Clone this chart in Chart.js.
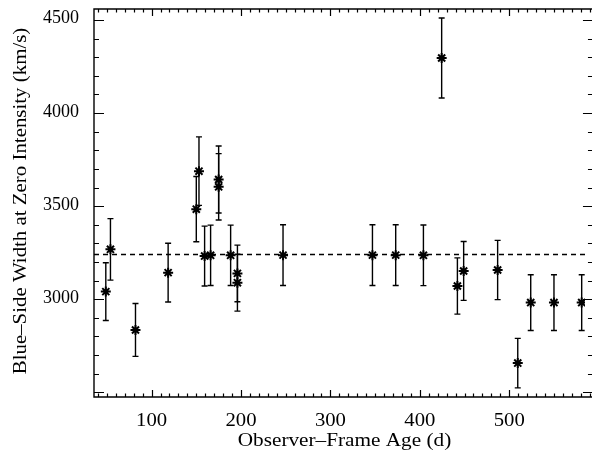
<!DOCTYPE html>
<html><head><meta charset="utf-8">
<script src="https://cdn.jsdelivr.net/npm/chart.js@4"></script>
<style>
html,body{margin:0;padding:0;background:#fff;overflow:hidden;width:592px;height:456px}
#wrap{width:592px;height:456px;position:relative}
canvas{display:block}
</style></head>
<body><div id="wrap"><canvas id="c" width="592" height="456"></canvas></div>
<script>
// Observer-frame age (days)
const ages = [48.8, 54, 82, 118.5, 150, 153, 159.3, 166, 175, 175, 188.4, 196, 196, 247, 347, 373, 404, 424.4, 442, 449, 487, 509.5, 524, 550, 581];
// Blue-side width at zero intensity (km/s)
const widths = [3041, 3268, 2835, 3143, 3484, 3688, 3232, 3236, 3643, 3604, 3236, 3139, 3089, 3237, 3237, 3237, 3236, 4296, 3071, 3152, 3157, 2657, 2982, 2982, 2982];
// 1-sigma uncertainties (km/s)
const errors = [155, 165, 142, 158, 175, 184, 161, 162, 180, 178, 162, 152, 153, 163, 163, 163, 163, 215, 151, 158, 159, 133, 150, 150, 150];
const meanWidth = 3240;
const xTicks = [100, 200, 300, 400, 500];
const yTicks = [3000, 3500, 4000, 4500];
const xRange = [35.6, 584.7];   // visible part of the axis
const xAxisEnd = 593.6;         // true right end of the plot box (just off the picture)
const yRange = [2475, 4559];
const xTitle = 'Observer\u2013Frame Age (d)';
const yTitle = 'Blue\u2013Side Width at Zero Intensity (km/s)';

const FONT = "'Liberation Serif', 'Times New Roman', serif";
const INK = '#000';

const points = ages.map((a, i) => ({x: a, y: widths[i]}));

function stretchedText(ctx, text, x, y, sx, align) {
  ctx.save();
  ctx.translate(x, y);
  ctx.scale(sx, 1);
  ctx.textAlign = align;
  ctx.fillText(text, 0, 0);
  ctx.restore();
}

const errorBars = {
  id: 'errorBars',
  afterDatasetsDraw(chart) {
    const {ctx, scales: {x, y}} = chart;
    ctx.save();
    ctx.strokeStyle = INK;
    ctx.lineWidth = 1.4;
    ages.forEach((a, i) => {
      const px = x.getPixelForValue(a);
      const yt = y.getPixelForValue(widths[i] + errors[i]);
      const yb = y.getPixelForValue(widths[i] - errors[i]);
      ctx.beginPath();
      ctx.moveTo(px, yt); ctx.lineTo(px, yb);
      ctx.moveTo(px - 3, yt); ctx.lineTo(px + 3, yt);
      ctx.moveTo(px - 3, yb); ctx.lineTo(px + 3, yb);
      ctx.stroke();
    });
    ctx.restore();
  }
};

const frame = {
  id: 'frame',
  afterDraw(chart) {
    const {ctx, chartArea: ca, scales: {x, y}} = chart;
    const rx = x.getPixelForValue(xAxisEnd);
    ctx.save();
    ctx.strokeStyle = INK;
    ctx.lineWidth = 1.4;
    ctx.beginPath();
    ctx.moveTo(rx, ca.top); ctx.lineTo(ca.left, ca.top);
    ctx.lineTo(ca.left, ca.bottom); ctx.lineTo(rx, ca.bottom);
    ctx.moveTo(rx, ca.top); ctx.lineTo(rx, ca.bottom);
    ctx.stroke();
    ctx.lineWidth = 1.2;
    ctx.beginPath();
    for (let v = Math.ceil(xRange[0] / 10) * 10; v <= xAxisEnd; v += 10) {
      const px = Math.round(x.getPixelForValue(v)) + 0.5;
      const len = (v % 100 === 0) ? 7 : 3.5;
      ctx.moveTo(px, ca.bottom); ctx.lineTo(px, ca.bottom - len);
      ctx.moveTo(px, ca.top); ctx.lineTo(px, ca.top + len);
    }
    for (let v = Math.ceil(yRange[0] / 100) * 100; v <= yRange[1]; v += 100) {
      const py = Math.round(y.getPixelForValue(v)) + 0.5;
      const len = (v % 500 === 0) ? 10 : 5;
      ctx.moveTo(ca.left, py); ctx.lineTo(ca.left + len, py);
      ctx.moveTo(rx, py); ctx.lineTo(rx - len, py);
    }
    ctx.stroke();

    ctx.fillStyle = INK;
    ctx.font = '18px ' + FONT;
    ctx.textBaseline = 'alphabetic';
    // tick labels
    xTicks.forEach(v => stretchedText(ctx, String(v), x.getPixelForValue(v), 426, 1.15, 'center'));
    yTicks.forEach(v => stretchedText(ctx, String(v), ca.left - 15, y.getPixelForValue(v) + 3.5, 1.0, 'right'));
    // axis titles
    stretchedText(ctx, xTitle, (ca.left + rx) / 2 + 1, 446, 1.18, 'center');
    ctx.save();
    ctx.translate(26, 201);
    ctx.rotate(-Math.PI / 2);
    stretchedText(ctx, yTitle, 0, 0, 1.16, 'center');
    ctx.restore();
    ctx.restore();
  }
};

new Chart(document.getElementById('c'), {
  type: 'scatter',
  data: {
    datasets: [
      {
        data: points,
        pointStyle: 'star',
        pointRadius: 5,
        pointBorderWidth: 2,
        pointBackgroundColor: INK,
        borderColor: INK,
        showLine: false,
        order: 1
      },
      {
        type: 'line',
        data: [{x: xRange[0], y: meanWidth}, {x: xAxisEnd, y: meanWidth}],
        borderColor: INK,
        borderWidth: 1.4,
        borderDash: [5, 4],
        pointRadius: 0,
        order: 2
      }
    ]
  },
  options: {
    responsive: false,
    animation: false,
    devicePixelRatio: 1,
    layout: {padding: {top: 9, right: 1, left: 0, bottom: 0}},
    plugins: {legend: {display: false}, tooltip: {enabled: false}},
    scales: {
      x: {
        type: 'linear', min: xRange[0], max: xRange[1],
        afterBuildTicks: s => { s.ticks = xTicks.map(v => ({value: v})); },
        afterFit: s => { s.height = 59; s.paddingLeft = 0; s.paddingRight = 0; },
        grid: {display: false, drawTicks: false},
        border: {display: false},
        ticks: {display: false}
      },
      y: {
        type: 'linear', min: yRange[0], max: yRange[1],
        afterBuildTicks: s => { s.ticks = yTicks.map(v => ({value: v})); },
        afterFit: s => { s.width = 94; s.paddingTop = 0; s.paddingBottom = 0; },
        grid: {display: false, drawTicks: false},
        border: {display: false},
        ticks: {display: false}
      }
    }
  },
  plugins: [errorBars, frame]
});
</script>
</body></html>
